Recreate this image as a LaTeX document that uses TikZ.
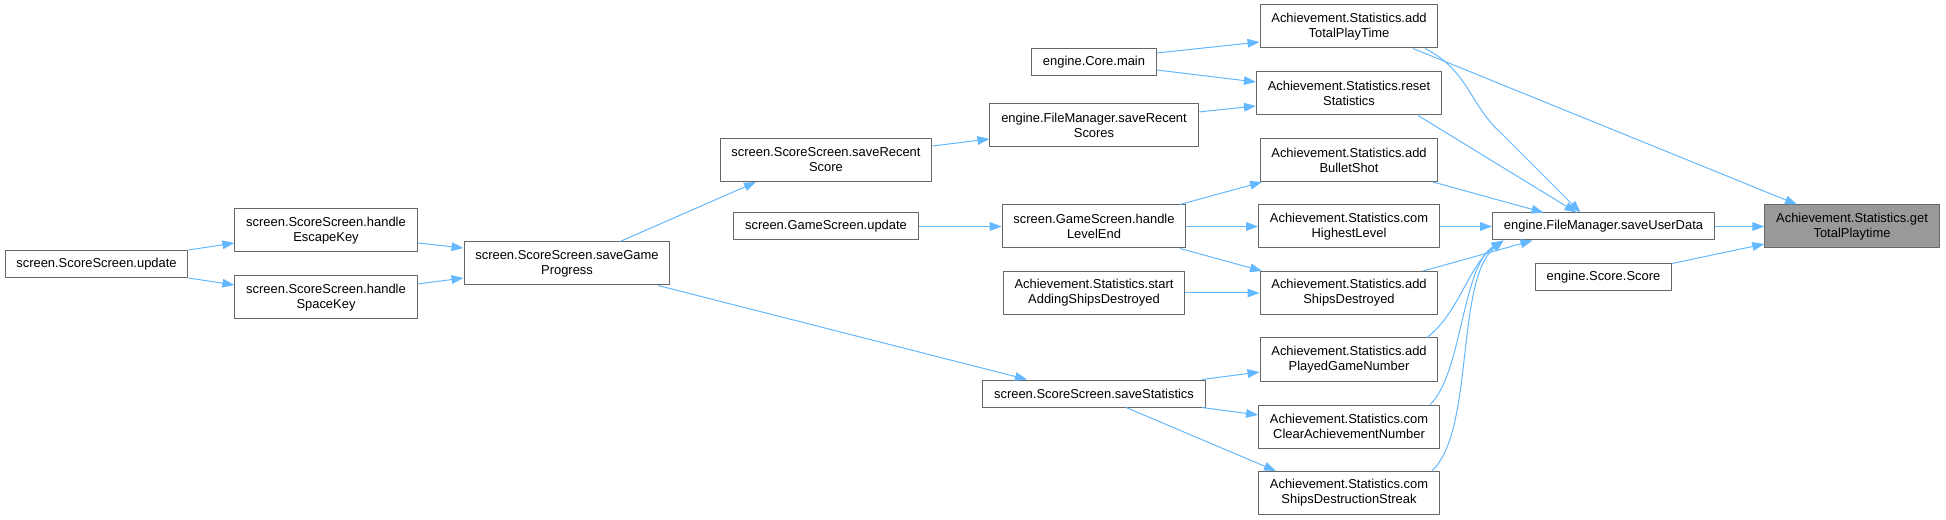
\documentclass[tikz,border=0pt]{standalone}
\usepackage{fontspec}
\setmainfont{Liberation Sans}
\usetikzlibrary{arrows.meta,calc}
\definecolor{edgeblue}{HTML}{63B8FF}
\definecolor{boxgray}{HTML}{666666}
\definecolor{rootfill}{HTML}{999999}

\begin{document}
\begin{tikzpicture}[x=0.75pt,y=-0.75pt,line join=round,
  fn/.style={draw=boxgray,fill=white,line width=0.75pt,inner xsep=8.5pt,inner ysep=0pt,
    minimum height=20.25pt,align=center,font=\fontsize{9.7}{11.2}\selectfont},
  fn2/.style={fn,minimum height=32.25pt},
  root/.style={fn2,fill=rootfill},
  call/.style={draw=edgeblue,line width=0.75pt,-{Triangle[length=9pt,width=6.5pt]}}]
  \useasboundingbox (0,0) rectangle (1946,520);
  % callers, left to right
  \node[fn]  (upd)   at (96.5,264)   {screen.ScoreScreen.update};
  \node[fn2] (esc)   at (326,230.5)  {screen.ScoreScreen.handle\\EscapeKey};
  \node[fn2] (spc)   at (326,297.5)  {screen.ScoreScreen.handle\\SpaceKey};
  \node[fn2] (sgp)   at (567,263.5)  {screen.ScoreScreen.saveGame\\Progress};
  \node[fn2] (srs)   at (826,160)    {screen.ScoreScreen.saveRecent\\Score};
  \node[fn]  (gsu)   at (826,226.5)  {screen.GameScreen.update};
  \node[fn]  (cmain) at (1094,62.5)  {engine.Core.main};
  \node[fn2] (fmsr)  at (1094,125)   {engine.FileManager.saveRecent\\Scores};
  \node[fn2] (hle)   at (1094,226.5) {screen.GameScreen.handle\\LevelEnd};
  \node[fn2] (sasd)  at (1094,293)   {Achievement.Statistics.start\\AddingShipsDestroyed};
  \node[fn]  (sst)   at (1094,393.5) {screen.ScoreScreen.saveStatistics};
  \node[fn2] (atpt)  at (1349,26.5)  {Achievement.Statistics.add\\TotalPlayTime};
  \node[fn2] (rst)   at (1349,93.5)  {Achievement.Statistics.reset\\Statistics};
  \node[fn2] (abs)   at (1349,160)   {Achievement.Statistics.add\\BulletShot};
  \node[fn2] (chl)   at (1349,226.5) {Achievement.Statistics.com\\HighestLevel};
  \node[fn2] (asd)   at (1349,293)   {Achievement.Statistics.add\\ShipsDestroyed};
  \node[fn2] (apgn)  at (1349,359.5) {Achievement.Statistics.add\\PlayedGameNumber};
  \node[fn2] (ccan)  at (1349,426.5) {Achievement.Statistics.com\\ClearAchievementNumber};
  \node[fn2] (csds)  at (1349,493)   {Achievement.Statistics.com\\ShipsDestructionStreak};
  \node[fn]  (sud)   at (1603.5,226.5) {engine.FileManager.saveUserData};
  \node[fn]  (score) at (1603.5,277.5) {engine.Score.Score};
  \node[root] (gtp)  at (1852,226.5) {Achievement.Statistics.get\\TotalPlaytime};
  % calls
  \draw[call] (upd.north east) -- ($(esc.west)+(0,12.5)$);
  \draw[call] (upd.south east) -- ($(spc.west)+(0,-12.5)$);
  \draw[call] ($(esc.east)+(0,12.5)$) -- ($(sgp.west)+(0,-15.5)$);
  \draw[call] ($(spc.east)+(0,-13.5)$) -- ($(sgp.west)+(0,14.5)$);
  \draw[call] ($(sgp.north)+(53,0)$) -- ($(srs.south)+(-70,0)$);
  \draw[call] ($(sgp.south)+(91,0)$) -- ($(sst.north)+(-67,0)$);
  \draw[call] ($(srs.east)+(0,-14)$) -- ($(fmsr.west)+(0,14)$);
  \draw[call] ($(fmsr.east)+(0,-13)$) -- ($(rst.west)+(0,12.5)$);
  \draw[call] ($(cmain.east)+(0,-9.5)$) -- ($(atpt.west)+(0,15.5)$);
  \draw[call] ($(cmain.east)+(0,7.5)$) -- ($(rst.west)+(0,-11.5)$);
  \draw[call] (gsu.east) -- (hle.west);
  \draw[call] ($(hle.north)+(86,0)$) -- ($(abs.south)+(-87,0)$);
  \draw[call] (hle.east) -- (chl.west);
  \draw[call] ($(hle.south)+(86,0)$) -- ($(asd.north)+(-87,0)$);
  \draw[call] (sasd.east) -- (asd.west);
  \draw[call] ($(sst.north)+(108,0)$) -- ($(apgn.west)+(0,12.5)$);
  \draw[call] ($(sst.south)+(108,0)$) -- ($(ccan.west)+(0,-11.5)$);
  \draw[call] ($(sst.south)+(32,0)$) -- ($(csds.north)+(-73,0)$);
  % into saveUserData
  \draw[call] ($(atpt.south)+(76,0)$) .. controls (1468,70) and (1470,105) .. (1500,132) -- ($(sud.north)+(-23,0)$);
  \draw[call] ($(rst.south)+(69,0)$) -- ($(sud.north)+(-27,0)$);
  \draw[call] ($(abs.south)+(84,0)$) -- ($(sud.north)+(-60,0)$);
  \draw[call] (chl.east) -- (sud.west);
  \draw[call] ($(asd.north)+(74,0)$) -- ($(sud.south)+(-71,0)$);
  \draw[call] ($(apgn.north)+(78,0)$) .. controls (1460,312) and (1468,265) .. ($(sud.south)+(-100,0)$);
  \draw[call] ($(ccan.north)+(81,0)$) .. controls (1462,375) and (1462,265) .. ($(sud.south)+(-100,0)$);
  \draw[call] ($(csds.north)+(83,0)$) .. controls (1475,430) and (1455,280) .. ($(sud.south)+(-100,0)$);
  % into getTotalPlaytime
  \draw[call] ($(atpt.south)+(64,0)$) -- ($(gtp.north)+(-55,0)$);
  \draw[call] (sud.east) -- (gtp.west);
  \draw[call] (score.north east) -- ($(gtp.west)+(0,17.5)$);
\end{tikzpicture}
\end{document}
